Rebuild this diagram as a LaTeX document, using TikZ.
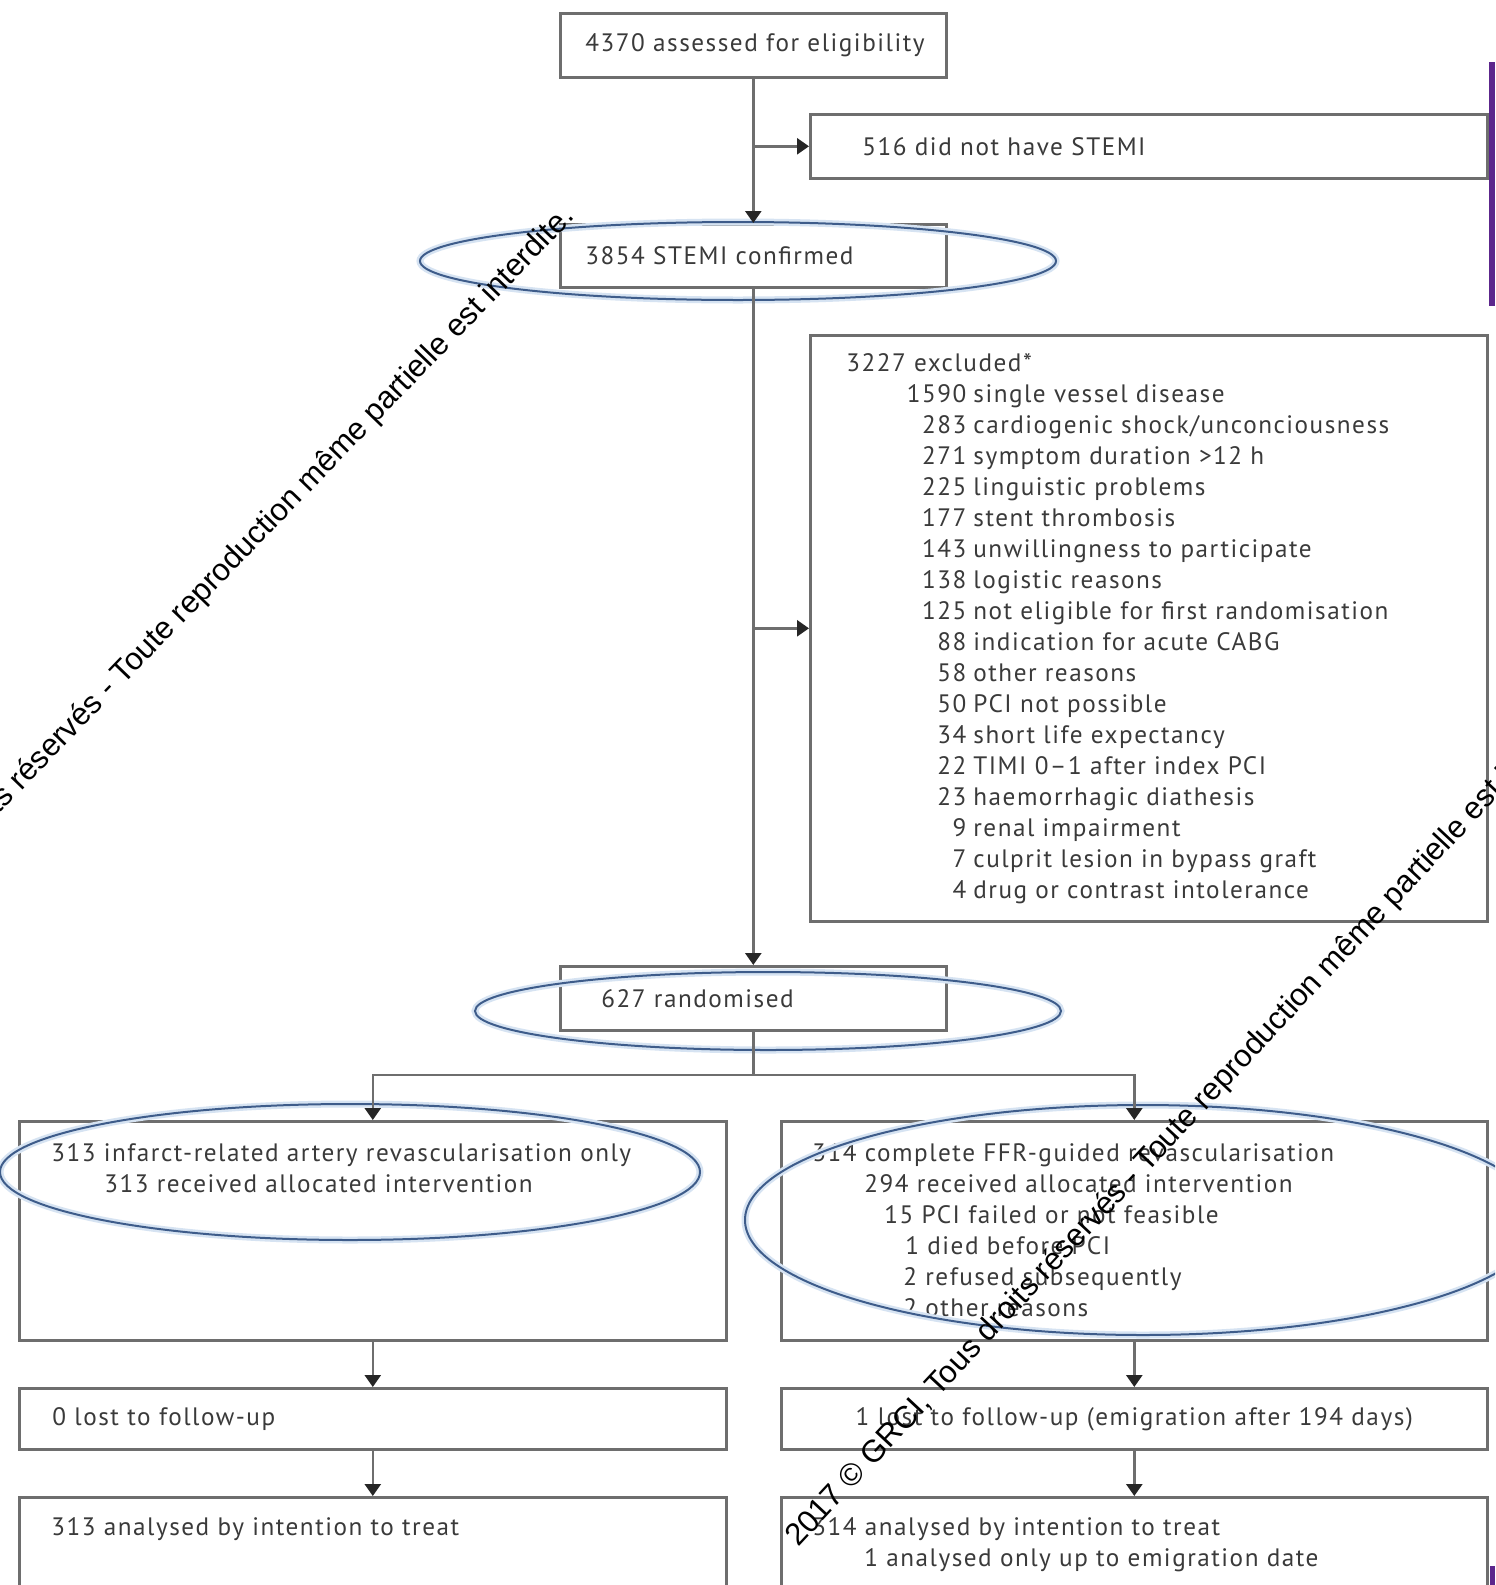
\documentclass[tikz,border=0pt]{standalone}
\usepackage{fontspec}
\setmainfont{PT Sans}[LetterSpace=6.0]
\newfontfamily\wmfont{Liberation Sans}
\usetikzlibrary{arrows.meta,positioning}
\definecolor{boxline}{HTML}{6E6E6E}
\definecolor{txtgray}{HTML}{3A3A3A}
\definecolor{ringblue}{RGB}{62,92,138}
\definecolor{ringhalo}{RGB}{214,227,242}
\definecolor{edgepurple}{RGB}{92,38,140}
\newcommand{\boxfont}{\fontsize{12.6}{15.5}\selectfont}
\newcommand{\xrow}[2]{\makebox[60pt][r]{#1}\hspace{3.5pt}#2}

\begin{document}
\begin{tikzpicture}[x=0.5pt,y=-0.5pt,
    box/.style={draw=boxline, line width=1.3pt, anchor=north west, inner ysep=0pt,
        inner xsep=0pt, align=left, font=\boxfont, text=txtgray},
    txt/.style={anchor=north west, inner sep=0pt, align=left, font=\boxfont, text=txtgray},
    arr/.style={draw=boxline, line width=1.3pt,
        -{Triangle[width=8pt,length=6pt,color=black!85]}},
    ring/.style={draw=ringblue, line width=1pt,
        preaction={draw=ringhalo, line width=3.5pt}},
    wm/.style={inner sep=0pt, font=\wmfont\fontsize{15.6}{18}\selectfont, text=black}]
    \useasboundingbox (0,0) rectangle (1495,1585);
    \clip (0,0) rectangle (1495,1585);
    \fill[white] (0,0) rectangle (1495,1585);

    % screening
    \node[box, minimum height=32pt, inner xsep=12.5pt, text width=168pt] (b4370) at (559,12)
        {4370 assessed for eligibility};
    \node[box, minimum height=32pt, inner xsep=26pt, text width=286.5pt] (b516) at (809,113)
        {516 did not have STEMI};
    \node[box, minimum height=31.5pt, inner xsep=12.5pt, text width=168pt] (b3854) at (559,223)
        {3854 STEMI confirmed};
    \node[box, minimum width=338.5pt, minimum height=293pt] (bexcl) at (809,334) {};
    \node[txt] (texcl) at (846,353) {3227 excluded*\\
        \xrow{1590}{single vessel disease}\\
        \xrow{283}{cardiogenic shock/unconciousness}\\
        \xrow{271}{symptom duration >12 h}\\
        \xrow{225}{linguistic problems}\\
        \xrow{177}{stent thrombosis}\\
        \xrow{143}{unwillingness to participate}\\
        \xrow{138}{logistic reasons}\\
        \xrow{125}{not eligible for first randomisation}\\
        \xrow{88}{indication for acute CABG}\\
        \xrow{58}{other reasons}\\
        \xrow{50}{PCI not possible}\\
        \xrow{34}{short life expectancy}\\
        \xrow{22}{TIMI 0--1 after index PCI}\\
        \xrow{23}{haemorrhagic diathesis}\\
        \xrow{9}{renal impairment}\\
        \xrow{7}{culprit lesion in bypass graft}\\
        \xrow{4}{drug or contrast intolerance}};
    \node[box, minimum height=32pt, inner xsep=20.5pt, text width=152pt] (b627) at (559,965)
        {627 randomised};

    % allocation
    \node[box, minimum width=353.5pt, minimum height=109.5pt] (bIRA) at (18,1120) {};
    \node[txt] (tIRA) at (51,1143) {313 infarct-related artery revascularisation only\\
        \hspace*{26.5pt}313 received allocated intervention};
    \node[box, minimum width=353pt, minimum height=109.5pt] (bFFR) at (780,1120) {};
    \node[txt] (tFFR) at (812,1143) {314 complete FFR-guided revascularisation\\
        \hspace*{26pt}294 received allocated intervention\\
        \hspace*{36pt}15 PCI failed or not feasible\\
        \hspace*{46.5pt}1 died before PCI\\
        \hspace*{45.5pt}2 refused subsequently\\
        \hspace*{45.5pt}2 other reasons};

    % follow-up and analysis
    \node[box, minimum height=30.5pt, inner xsep=16.5pt, text width=320.5pt] (blostL) at (18,1387)
        {0 lost to follow-up};
    \node[box, minimum height=30.5pt, inner xsep=10pt, text width=333pt, align=center] (blostR) at (780,1387)
        {1 lost to follow-up (emigration after 194 days)};
    \node[box, minimum width=353.5pt, minimum height=70pt] (bittL) at (18,1496) {};
    \node[txt] (tittL) at (51,1517) {313 analysed by intention to treat};
    \node[box, minimum width=353pt, minimum height=70pt] (bittR) at (780,1496) {};
    \node[txt] (tittR) at (812,1517) {314 analysed by intention to treat\\
        \hspace*{26pt}1 analysed only up to emigration date};

    % hand-drawn rings
    \draw[ring] (738,261) ellipse [x radius=318, y radius=39];
    \draw[ring] (768,1011) ellipse [x radius=293, y radius=39];
    \draw[ring] (350,1172) ellipse [x radius=350, y radius=68];
    \draw[ring] (1143,1220) ellipse [x radius=398, y radius=115];

    % connectors
    \draw[arr] (b4370) -- (b3854);
    \draw[arr] (b4370.south |- b516.west) -- (b516.west);
    \draw[arr] (b3854) -- (b627);
    \draw[arr] (b3854.south |- bexcl.west) -- (bexcl.west);
    \coordinate (split) at (b627.south |- 0,1075);
    \draw[boxline, line width=1.3pt] (b627) -- (split);
    \draw[arr] (split) -| (bIRA.north);
    \draw[arr] (split) -| (bFFR.north);
    \draw[arr] (bIRA) -- (blostL);
    \draw[arr] (blostL) -- (bittL);
    \draw[arr] (bFFR) -- (blostR);
    \draw[arr] (blostR) -- (bittR);

    % watermark lines
    \node[wm, rotate=46, anchor=base east] (wmA) at (576,217)
        {2017 © GRCI, Tous droits réservés - Toute reproduction même partielle est interdite.};
    \node[wm, rotate=47, anchor=base west] (wmB) at (798,1548)
        {2017 © GRCI, Tous droits réservés - Toute reproduction même partielle est interdite.};

    % page edge
    \fill[edgepurple] (1489,62) rectangle (1495,306);
    \fill[edgepurple] (1490,1566) rectangle (1495,1585);
\end{tikzpicture}
\end{document}
